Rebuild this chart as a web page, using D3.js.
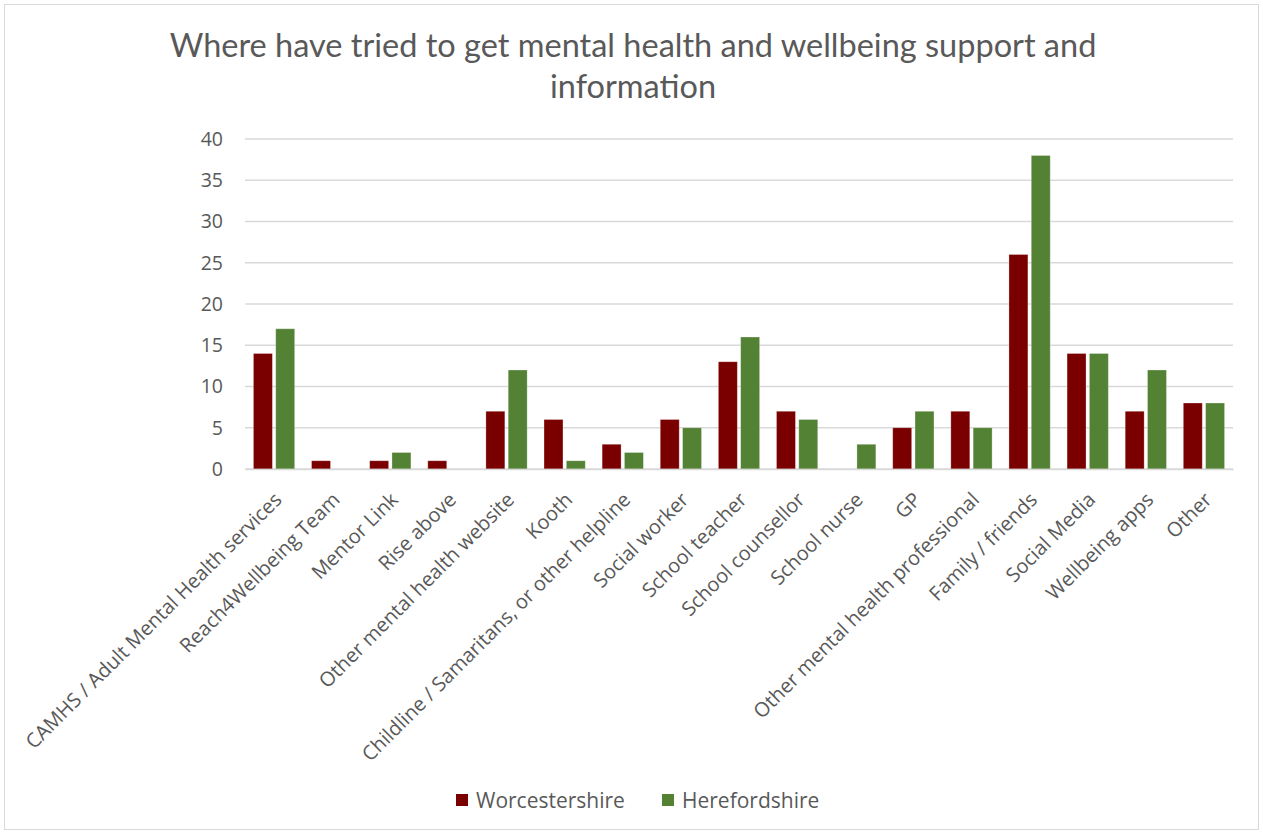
<!DOCTYPE html>
<html>
<head>
<meta charset="utf-8">
<script src="https://cdn.jsdelivr.net/npm/d3@7"></script>
<style>
  html, body { margin: 0; padding: 0; background: #fff; }
  svg { display: block; }
  text { fill: #595959; }
</style>
</head>
<body>
<svg id="chart" width="1263" height="834"></svg>
<script>
const categories = [
  "CAMHS / Adult Mental Health services",
  "Reach4Wellbeing Team",
  "Mentor Link",
  "Rise above",
  "Other mental health website",
  "Kooth",
  "Childline / Samaritans, or other helpline",
  "Social worker",
  "School teacher",
  "School counsellor",
  "School nurse",
  "GP",
  "Other mental health professional",
  "Family / friends",
  "Social Media",
  "Wellbeing apps",
  "Other"
];
const worcestershire = [14, 1, 1, 1, 7, 6, 3, 6, 13, 7, 0, 5, 7, 26, 14, 7, 8];
const herefordshire  = [17, 0, 2, 0, 12, 1, 2, 5, 16, 6, 3, 7, 5, 38, 14, 12, 8];
const seriesNames = ["Worcestershire", "Herefordshire"];
const seriesColors = ["#7A0000", "#548235"];
const yTicks = [0, 5, 10, 15, 20, 25, 30, 35, 40];
const titleLines = ["Where have tried to get mental health and wellbeing support and", "information"];

const titleFont = "Lato, sans-serif";
const labelFont = "'Open Sans', sans-serif";

const svg = d3.select("#chart");
const W = 1263, H = 834;

// chart frame
svg.append("rect")
  .attr("x", 4.5).attr("y", 4.5)
  .attr("width", W - 9).attr("height", H - 9)
  .attr("fill", "#fff").attr("stroke", "#D9D9D9").attr("stroke-width", 1);

const plot = { left: 245, right: 1233, top: 139, bottom: 469 };

const x = d3.scaleBand().domain(categories).range([plot.left, plot.right]).paddingInner(0.29).paddingOuter(0.145);
const xs = d3.scaleBand().domain(seriesNames).range([0, x.bandwidth()]).paddingInner(0.15);
const y = d3.scaleLinear().domain([0, 40]).range([plot.bottom, plot.top]);

// title
svg.append("g").selectAll("text").data(titleLines).join("text")
  .attr("x", 633).attr("y", (d, i) => 57 + i * 41)
  .attr("text-anchor", "middle")
  .style("font-family", titleFont)
  .attr("font-size", 32.5)
  .text(d => d);

// gridlines
svg.append("g").selectAll("line").data(yTicks).join("line")
  .attr("x1", plot.left).attr("x2", plot.right)
  .attr("y1", d => y(d)).attr("y2", d => y(d))
  .attr("stroke", "#D9D9D9").attr("stroke-width", 1.3);

// y axis labels
const yAxis = d3.axisLeft(y).tickValues(yTicks).tickSize(0).tickPadding(22);
const gy = svg.append("g").attr("transform", `translate(${plot.left},0)`).call(yAxis);
gy.select(".domain").remove();
gy.selectAll("text").attr("font-size", 19.5).attr("fill", "#595959")
  .style("font-family", labelFont);

// bars
const rows = categories.map((c, i) => ({ cat: c, vals: [worcestershire[i], herefordshire[i]] }));
const groups = svg.append("g").selectAll("g").data(rows).join("g")
  .attr("transform", d => `translate(${x(d.cat)},0)`);
groups.selectAll("rect")
  .data(d => d.vals.map((v, j) => ({ name: seriesNames[j], v, j })))
  .join("rect")
  .attr("x", d => xs(d.name))
  .attr("width", xs.bandwidth())
  .attr("y", d => y(d.v))
  .attr("height", d => y(0) - y(d.v))
  .attr("fill", d => seriesColors[d.j])
  .attr("stroke", "#ffffff").attr("stroke-opacity", 0.35).attr("stroke-width", 0.8);

// x axis with rotated category labels
const xAxis = d3.axisBottom(x).tickSize(0).tickPadding(0);
const gx = svg.append("g").attr("transform", `translate(0,${plot.bottom})`).call(xAxis);
gx.select(".domain").attr("stroke", "#D9D9D9").attr("stroke-width", 1.3);
gx.selectAll("text")
  .attr("font-size", 20).attr("fill", "#595959")
  .style("font-family", labelFont)
  .attr("text-anchor", "end")
  .attr("dy", null).attr("y", 0)
  .attr("transform", "translate(9,32) rotate(-45)");

// legend
const legendX = [456, 662];
const lg = svg.append("g").selectAll("g").data(seriesNames).join("g")
  .attr("transform", (d, i) => `translate(${legendX[i]},800)`);
lg.append("rect").attr("x", 0).attr("y", -6).attr("width", 12).attr("height", 12)
  .attr("fill", (d, i) => seriesColors[i]);
lg.append("text").attr("x", 20).attr("y", 7.5).attr("font-size", 21)
  .style("font-family", labelFont).text(d => d);
</script>
</body>
</html>
